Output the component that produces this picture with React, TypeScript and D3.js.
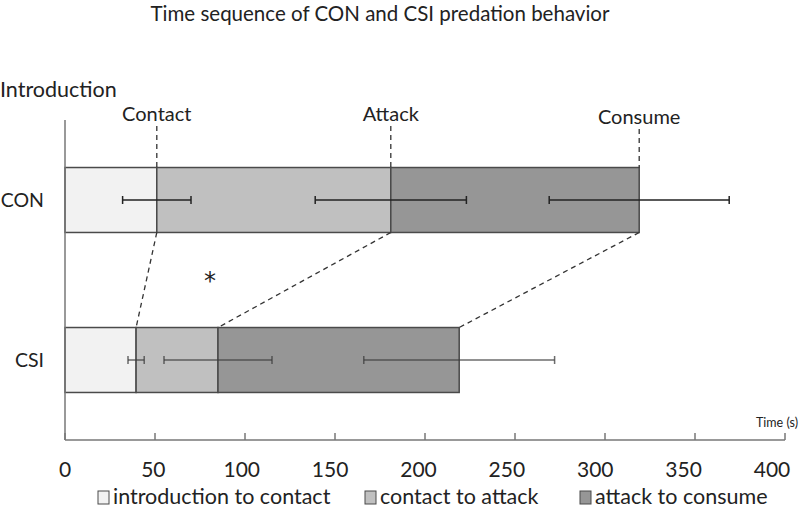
import React from "react";
import * as d3 from "d3";

const groups = ["CON", "CSI"];
const phases = ["introduction to contact", "contact to attack", "attack to consume"];
const events = ["Contact", "Attack", "Consume"];
// cumulative times (s) at which each event occurs
const conTimes = [51, 181, 319];
const csiTimes = [39.5, 85, 219];
// error (half-width) for each event
const conErr = [19, 42, 50];
const csiErr = [4.5, 30, 53];
const xTicks = [0, 50, 100, 150, 200, 250, 300, 350, 400];
const phaseColors = ["#f2f2f2", "#c0c0c0", "#969696"];

export default function App() {
  const W = 800, H = 511;
  const x = d3.scaleLinear().domain([0, 400]).range([65, 785]);
  const y = d3.scaleBand().domain(groups).range([120, 440]).paddingInner(0.594).paddingOuter(0.297);
  const font = "Lato, 'Open Sans', sans-serif";
  const data: Record<string, { times: number[]; err: number[] }> = {
    CON: { times: conTimes, err: conErr },
    CSI: { times: csiTimes, err: csiErr },
  };
  const bw = y.bandwidth();
  const conY = y("CON")!;
  const csiY = y("CSI")!;
  const legendX = [98, 365, 580];

  return (
    <svg width={W} height={H} style={{ position: "absolute", left: 0, top: 0, background: "#fff" }}>
      <text x={380} y={21} textAnchor="middle" fontFamily={font} fontSize={20.5} fill="#222">
        Time sequence of CON and CSI predation behavior
      </text>
      <text x={0} y={97} fontFamily={font} fontSize={21.5} fill="#222">Introduction</text>

      {/* bars */}
      {groups.map((g) => {
        const d = data[g];
        const starts = [0, ...d.times.slice(0, 2)];
        return (
          <g key={g}>
            {d.times.map((t, i) => (
              <rect key={i} x={x(starts[i])} y={y(g)!} width={x(t) - x(starts[i])} height={bw}
                fill={phaseColors[i]} stroke="#4a4a4a" strokeWidth={1.5} />
            ))}
          </g>
        );
      })}

      {/* error bars */}
      {groups.map((g) => {
        const d = data[g];
        const cy = y(g)! + bw / 2;
        const col = g === "CON" ? "#222" : "rgba(60,60,60,0.75)";
        return (
          <g key={"e" + g} stroke={col} strokeWidth={1.5}>
            {d.times.map((t, i) => (
              <g key={i}>
                <line x1={x(t - d.err[i])} x2={x(t + d.err[i])} y1={cy} y2={cy} />
                <line x1={x(t - d.err[i])} x2={x(t - d.err[i])} y1={cy - 4} y2={cy + 4} />
                <line x1={x(t + d.err[i])} x2={x(t + d.err[i])} y1={cy - 4} y2={cy + 4} />
              </g>
            ))}
          </g>
        );
      })}

      {/* event labels and dashed connectors */}
      {events.map((ev, i) => (
        <g key={ev}>
          <text x={x(conTimes[i])} y={i === 2 ? 124 : 121} textAnchor="middle" fontFamily={font} fontSize={20} fill="#222">{ev}</text>
          <line x1={x(conTimes[i])} x2={x(conTimes[i])} y1={i === 2 ? 129 : 126} y2={conY}
            stroke="#333" strokeWidth={1.3} strokeDasharray="5,4" />
          <line x1={x(conTimes[i])} x2={x(csiTimes[i])} y1={conY + bw} y2={csiY}
            stroke="#333" strokeWidth={1.3} strokeDasharray="5,4" />
        </g>
      ))}

      <text x={210} y={289} textAnchor="middle" fontFamily="'DejaVu Sans', sans-serif" fontSize={24} fill="#222">*</text>

      {/* group labels */}
      {groups.map((g) => (
        <text key={"l" + g} x={44} y={y(g)! + bw / 2 + 7} textAnchor="end" fontFamily={font} fontSize={19.5} fill="#222">{g}</text>
      ))}

      {/* axes */}
      <line x1={65} x2={65} y1={120} y2={440} stroke="#777" strokeWidth={1.5} />
      <line x1={65} x2={785} y1={440} y2={440} stroke="#777" strokeWidth={1.5} />
      {xTicks.map((t) => (
        <g key={t}>
          <line x1={x(t)} x2={x(t)} y1={440} y2={433} stroke="#777" strokeWidth={1.5} />
          <text x={x(t) - (t / 400) * 13} y={477} textAnchor="middle" fontFamily={font} fontSize={21} fill="#222">{t}</text>
        </g>
      ))}
      <text x={798} y={427} textAnchor="end" fontFamily={font} fontSize={12.5} fill="#222">Time (s)</text>

      {/* legend */}
      {phases.map((p, i) => (
        <g key={p}>
          <rect x={legendX[i]} y={491} width={11} height={13} fill={phaseColors[i]} stroke="#4a4a4a" strokeWidth={1} />
          <text x={legendX[i] + 15} y={504} fontFamily={font} fontSize={21.5} fill="#222">{p}</text>
        </g>
      ))}
    </svg>
  );
}
